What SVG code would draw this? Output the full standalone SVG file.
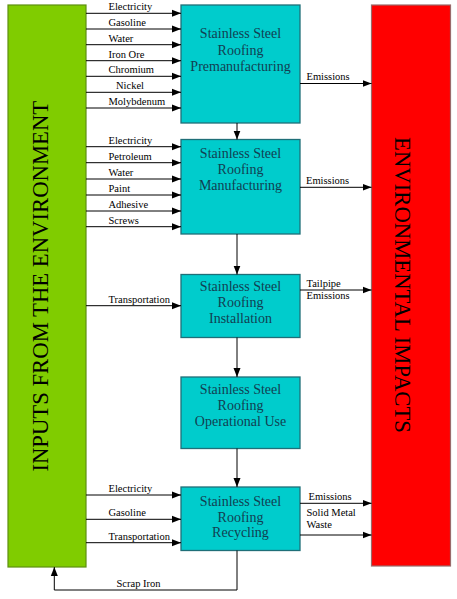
<svg xmlns="http://www.w3.org/2000/svg" width="457" height="599" viewBox="0 0 457 599">
<defs>
<style>
.bg{fill:#fff}
.green{fill:#80cc00;stroke:#5e8f10;stroke-width:1.2}
.red{fill:#ff0000;stroke:#9a6a6a;stroke-width:1.2}
.box{fill:#00cccc;stroke:#1f6f78;stroke-width:1.3}
.bt{font-family:"Liberation Serif","Times New Roman",serif;font-size:14px;fill:#123f52;text-anchor:middle}
.lb{font-family:"Liberation Serif","Times New Roman",serif;font-size:10.5px;fill:#000}
.big{font-family:"Liberation Serif","Times New Roman",serif;font-size:22.7px;fill:#000;text-anchor:middle}
.ln{fill:none;stroke:#000;stroke-width:1}
</style>
<marker id="ah" markerUnits="userSpaceOnUse" markerWidth="9" markerHeight="8" refX="9" refY="4" orient="auto">
<path d="M0,0.5 L9,4 L0,7.5 z" fill="#000"/>
</marker>
</defs>
<rect class="bg" x="0" y="0" width="457" height="599"/>

<g id="inputs">
<rect class="green" x="8" y="5" width="78" height="562"/>
<text class="big" transform="translate(47.5,286.2) rotate(-90)">INPUTS FROM THE ENVIRONMENT</text>
</g>
<g id="impacts">
<rect class="red" x="371.5" y="5" width="79" height="561"/>
<text class="big" transform="translate(395,285) rotate(90)">ENVIRONMENTAL IMPACTS</text>
</g>

<g id="premanufacturing">
<rect class="box" x="181" y="5" width="119" height="118"/>
<text class="bt" x="240.5" y="38">Stainless Steel</text>
<text class="bt" x="240.5" y="54.5">Roofing</text>
<text class="bt" x="240.5" y="71">Premanufacturing</text>
</g>
<g id="manufacturing">
<rect class="box" x="181" y="139.5" width="119" height="94.5"/>
<text class="bt" x="240.5" y="158">Stainless Steel</text>
<text class="bt" x="240.5" y="174">Roofing</text>
<text class="bt" x="240.5" y="190">Manufacturing</text>
</g>
<g id="installation">
<rect class="box" x="181" y="274.5" width="119" height="63"/>
<text class="bt" x="240.5" y="291">Stainless Steel</text>
<text class="bt" x="240.5" y="307">Roofing</text>
<text class="bt" x="240.5" y="323">Installation</text>
</g>
<g id="operational">
<rect class="box" x="181" y="377" width="119" height="71.5"/>
<text class="bt" x="240.5" y="394">Stainless Steel</text>
<text class="bt" x="240.5" y="410">Roofing</text>
<text class="bt" x="240.5" y="426">Operational Use</text>
</g>
<g id="recycling">
<rect class="box" x="181" y="487" width="119" height="63.5"/>
<text class="bt" x="240.5" y="506">Stainless Steel</text>
<text class="bt" x="240.5" y="521.5">Roofing</text>
<text class="bt" x="240.5" y="537">Recycling</text>
</g>

<g id="connectors">
<!-- premanufacturing inputs -->
<path class="ln" marker-end="url(#ah)" d="M86,13.3 H181"/>
<path class="ln" marker-end="url(#ah)" d="M86,29 H181"/>
<path class="ln" marker-end="url(#ah)" d="M86,44.7 H181"/>
<path class="ln" marker-end="url(#ah)" d="M86,60.7 H181"/>
<path class="ln" marker-end="url(#ah)" d="M86,76.3 H181"/>
<path class="ln" marker-end="url(#ah)" d="M86,92.3 H181"/>
<path class="ln" marker-end="url(#ah)" d="M86,108 H181"/>
<text class="lb" x="108.5" y="10">Electricity</text>
<text class="lb" x="108.5" y="26">Gasoline</text>
<text class="lb" x="108.5" y="41.7">Water</text>
<text class="lb" x="108.5" y="57.7">Iron Ore</text>
<text class="lb" x="108.5" y="73.3">Chromium</text>
<text class="lb" x="116" y="89.3">Nickel</text>
<text class="lb" x="108.5" y="105">Molybdenum</text>
<path class="ln" marker-end="url(#ah)" d="M300,83.5 H371.5"/>
<text class="lb" x="306.5" y="80">Emissions</text>

<!-- manufacturing inputs -->
<path class="ln" marker-end="url(#ah)" d="M86,146.7 H181"/>
<path class="ln" marker-end="url(#ah)" d="M86,162.7 H181"/>
<path class="ln" marker-end="url(#ah)" d="M86,179 H181"/>
<path class="ln" marker-end="url(#ah)" d="M86,195 H181"/>
<path class="ln" marker-end="url(#ah)" d="M86,211 H181"/>
<path class="ln" marker-end="url(#ah)" d="M86,226.7 H181"/>
<text class="lb" x="108.5" y="143.7">Electricity</text>
<text class="lb" x="108.5" y="159.7">Petroleum</text>
<text class="lb" x="108.5" y="176">Water</text>
<text class="lb" x="108.5" y="192">Paint</text>
<text class="lb" x="108.5" y="208">Adhesive</text>
<text class="lb" x="108.5" y="223.7">Screws</text>
<path class="ln" marker-end="url(#ah)" d="M300,187.3 H371.5"/>
<text class="lb" x="306" y="184">Emissions</text>

<!-- installation -->
<path class="ln" marker-end="url(#ah)" d="M86,305.7 H181"/>
<text class="lb" x="108.5" y="302.5">Transportation</text>
<path class="ln" marker-end="url(#ah)" d="M300,290 H371.5"/>
<text class="lb" x="306.5" y="287">Tailpipe</text>
<text class="lb" x="306.5" y="299">Emissions</text>

<!-- recycling -->
<path class="ln" marker-end="url(#ah)" d="M86,495 H181"/>
<path class="ln" marker-end="url(#ah)" d="M86,519.3 H181"/>
<path class="ln" marker-end="url(#ah)" d="M86,542.7 H181"/>
<text class="lb" x="108.5" y="492">Electricity</text>
<text class="lb" x="108.5" y="516.3">Gasoline</text>
<text class="lb" x="108.5" y="539.5">Transportation</text>
<path class="ln" marker-end="url(#ah)" d="M300,503.3 H371.5"/>
<text class="lb" x="308.5" y="500">Emissions</text>
<path class="ln" marker-end="url(#ah)" d="M300,535 H371.5"/>
<text class="lb" x="306.5" y="516">Solid Metal</text>
<text class="lb" x="306.5" y="527.7">Waste</text>

<!-- flow between stages -->
<path class="ln" marker-end="url(#ah)" d="M237,123 V139.5"/>
<path class="ln" marker-end="url(#ah)" d="M237,234 V274.5"/>
<path class="ln" marker-end="url(#ah)" d="M237,337.5 V377"/>
<path class="ln" marker-end="url(#ah)" d="M237,448.5 V487"/>

<!-- scrap iron loop -->
<path class="ln" marker-end="url(#ah)" d="M237,550.5 V590 H54.3 V567"/>
<text class="lb" x="116.5" y="587">Scrap Iron</text>
</g>
</svg>
